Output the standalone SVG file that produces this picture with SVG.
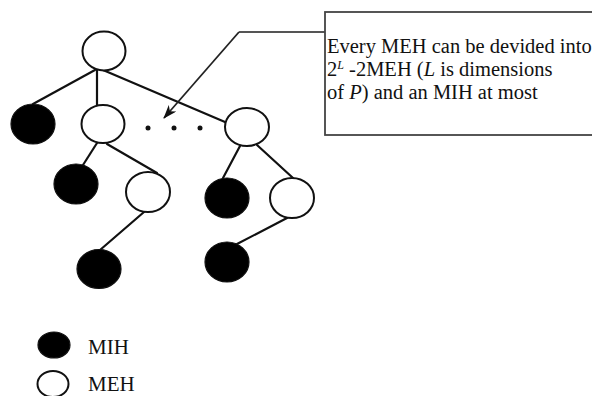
<svg xmlns="http://www.w3.org/2000/svg" width="592" height="396" viewBox="0 0 592 396">
<style>
.meh{fill:#fff;stroke:#111;stroke-width:2}
.mih{fill:#000;stroke:#111;stroke-width:1.2}
.edge{stroke:#111;stroke-width:2.2;fill:none;stroke-linecap:round}
.txt{font-family:"Liberation Serif","Times New Roman",serif;font-size:20.5px;fill:#111}
.leg{font-family:"Liberation Serif","Times New Roman",serif;font-size:21px;fill:#111}
</style>
<defs>
<marker id="arr" viewBox="0 0 14 10" refX="13" refY="5" markerWidth="14" markerHeight="10" markerUnits="userSpaceOnUse" orient="auto">
<path d="M0,0 L14,5 L0,10 L4,5 Z" fill="#111"/>
</marker>
</defs>
<rect width="592" height="396" fill="#fff"/>
<g id="connectors">
<line class="edge" x1="95" y1="70" x2="33" y2="104"/>
<line class="edge" x1="97" y1="70" x2="97" y2="105"/>
<line class="edge" x1="103" y1="70" x2="225" y2="122"/>
<line class="edge" x1="97" y1="143" x2="83" y2="165"/>
<line class="edge" x1="107" y1="144" x2="157" y2="173"/>
<line class="edge" x1="240" y1="146" x2="223" y2="178"/>
<line class="edge" x1="257" y1="145" x2="293" y2="178"/>
<line class="edge" x1="144" y1="212" x2="100" y2="250"/>
<line class="edge" x1="287" y1="218" x2="237" y2="244"/>
<polyline points="325,32 239,32" fill="none" stroke="#555" stroke-width="2"/>
<line x1="239" y1="32" x2="164" y2="118" stroke="#222" stroke-width="1.8" marker-end="url(#arr)"/>
</g>
<g id="root"><ellipse class="meh" cx="104" cy="51" rx="21.5" ry="19.5"/></g>
<g id="n-l1-black"><ellipse class="mih" cx="33" cy="124" rx="22" ry="20"/></g>
<g id="n-l1-white"><ellipse class="meh" cx="103" cy="124" rx="21.5" ry="19"/></g>
<g id="n-l1-right"><ellipse class="meh" cx="247" cy="127" rx="22" ry="19"/></g>
<g id="dots">
<circle cx="148" cy="128" r="2.5" fill="#111"/>
<circle cx="174" cy="128" r="2.5" fill="#111"/>
<circle cx="200" cy="128" r="2.5" fill="#111"/>
</g>
<g id="n-l2-black-a"><ellipse class="mih" cx="76" cy="184" rx="22" ry="20"/></g>
<g id="n-l2-white-a"><ellipse class="meh" cx="148" cy="192" rx="22" ry="20"/></g>
<g id="n-l2-black-b"><ellipse class="mih" cx="227" cy="198" rx="22" ry="20"/></g>
<g id="n-l2-white-b"><ellipse class="meh" cx="292" cy="198" rx="22" ry="20"/></g>
<g id="n-l3-black-a"><ellipse class="mih" cx="99" cy="269" rx="22" ry="19.5"/></g>
<g id="n-l3-black-b"><ellipse class="mih" cx="227" cy="262" rx="22" ry="20"/></g>
<g id="callout">
<rect x="325" y="12" width="280" height="123" fill="#fff" stroke="#444" stroke-width="1.8"/>
<text class="txt" x="327" y="53">Every MEH can be devided into</text>
<text class="txt" x="327" y="76">2<tspan font-style="italic" font-size="12" dy="-7">L</tspan><tspan dy="7"> -2MEH (</tspan><tspan font-style="italic">L</tspan> is dimensions</text>
<text class="txt" x="327" y="99">of <tspan font-style="italic">P</tspan>) and an MIH at most</text>
</g>
<g id="legend">
<ellipse class="mih" cx="54" cy="345" rx="16" ry="13"/>
<text class="leg" x="88" y="354">MIH</text>
<ellipse class="meh" cx="53" cy="384" rx="15.5" ry="13"/>
<text class="leg" x="88" y="391">MEH</text>
</g>
</svg>
